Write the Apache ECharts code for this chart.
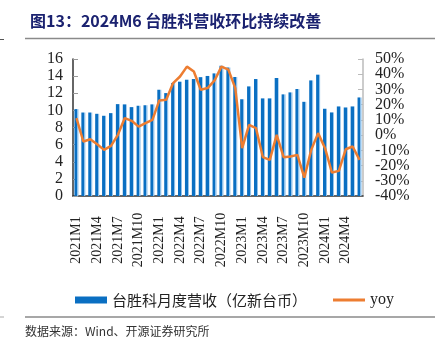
<!DOCTYPE html>
<html>
<head>
<meta charset="utf-8">
<script src="https://cdn.jsdelivr.net/npm/echarts@6/dist/echarts.min.js"></script>
<style>
html,body{margin:0;padding:0;background:#fff;}
#main{width:435px;height:354px;}
</style>
</head>
<body>
<div id="main"></div>
<script>
// 月份
var months = [];
var years = ['2021', '2022', '2023', '2024'];
for (var y = 0; y < years.length; y++) {
    for (var m = 1; m <= 12; m++) {
        if (years[y] === '2024' && m > 6) break;
        months.push(years[y] + 'M' + m);
    }
}

// 台胜科月度营收（亿新台币）
var revenue = [
    10.15, 9.75, 9.75, 9.6, 9.37, 9.68, 10.73, 10.7, 10.38, 10.54, 10.6, 10.7,
    12.41, 12.02, 13.2, 13.35, 13.58, 13.66, 13.88, 14.02, 14.32, 15.2, 15.0, 13.9,
    11.3, 12.8, 13.66, 11.4, 11.4, 13.78, 11.87, 12.1, 12.5, 11.0, 13.5, 14.17,
    10.19, 9.76, 10.46, 10.34, 10.46, 11.51
];

// yoy (%)
var yoy = [
    11.2, -4.2, -2.7, -6.0, -9.7, -7.1, 0.2, 11.2, 9.4, 5.6, 7.9, 10.0,
    22.8, 23.2, 34.2, 38.5, 45.0, 41.8, 29.8, 30.9, 35.9, 45.0, 43.0, 30.9,
    -8.6, 6.7, 4.6, -14.5, -16.3, 0.2, -14.5, -14.1, -13.0, -28.0, -9.7, 1.3,
    -8.6, -24.6, -23.5, -9.3, -7.5, -16.3
];

var barName = '台胜科月度营收（亿新台币）';
var lineName = 'yoy';

var myChart = echarts.init(document.getElementById('main'));
var serif = '"Liberation Serif", "Times New Roman", serif';
var cjk = '"Noto Sans CJK SC", sans-serif';

// 右轴标签太密会被自动隐藏，拆成两根重叠的轴，各显示一半
function pctLabel(odd) {
    return function (v) {
        var k = Math.round((v + 40) / 10);
        return (k % 2 === 1) === odd ? v + '%' : '';
    };
}

option = {
    animation: false,
    backgroundColor: '#fff',
    title: {
        text: '图13：2024M6 台胜科营收环比持续改善',
        left: 25,
        top: 8,
        textStyle: {
            fontFamily: cjk,
            fontSize: 16,
            fontWeight: 'bold',
            color: '#1b2270'
        }
    },
    graphic: [
        {type: 'line', shape: {x1: 25, y1: 38.5, x2: 435, y2: 38.5}, style: {stroke: '#8a8a8a', lineWidth: 1.5}},
        {type: 'line', shape: {x1: 0, y1: 39.5, x2: 4, y2: 39.5}, style: {stroke: '#555', lineWidth: 1}},
        {type: 'line', shape: {x1: 25, y1: 317, x2: 435, y2: 317}, style: {stroke: '#8a8a8a', lineWidth: 1.5}},
        {type: 'line', shape: {x1: 0, y1: 317, x2: 4, y2: 317}, style: {stroke: '#aaa', lineWidth: 1}},
        {
            type: 'text', left: 25, top: 325,
            style: {text: '数据来源：Wind、开源证券研究所', font: '12px ' + cjk, fill: '#333'}
        }
    ],
    legend: {
        top: 287,
        left: 70,
        itemGap: 26,
        itemWidth: 32,
        itemHeight: 7,
        textStyle: {fontFamily: cjk, fontSize: 15, color: '#222'},
        data: [
            {name: barName, icon: 'rect', itemStyle: {color: '#0a6fc2'}},
            {name: lineName, icon: 'path://M0,0 L32,0 L32,3 L0,3 Z', itemStyle: {color: '#ed7d31'},
                textStyle: {fontFamily: serif, fontSize: 16}}
        ]
    },
    grid: {
        left: 73,
        right: 72,
        top: 59,
        bottom: 158
    },
    xAxis: {
        type: 'category',
        data: months,
        axisLine: {lineStyle: {color: '#333', width: 1.5}},
        axisTick: {inside: true, interval: 0, length: 4, lineStyle: {color: '#999'}},
        axisLabel: {
            interval: 2,
            rotate: 90,
            align: 'center',
            verticalAlign: 'middle',
            margin: 44,
            fontFamily: serif,
            fontSize: 14,
            color: '#222'
        }
    },
    yAxis: [
        {
            type: 'value',
            min: 0,
            max: 16,
            interval: 2,
            splitLine: {show: false},
            axisLine: {show: true, lineStyle: {color: '#333', width: 1.5}},
            axisTick: {show: true, inside: true, length: 5, lineStyle: {color: '#999'}},
            axisLabel: {fontFamily: serif, fontSize: 16, color: '#222', margin: 10,
                showMinLabel: true, showMaxLabel: true}
        },
        {
            type: 'value',
            position: 'right',
            min: -40,
            max: 50,
            interval: 10,
            splitLine: {show: false},
            axisLine: {show: true, lineStyle: {color: '#bbb', width: 1.5}},
            axisTick: {show: true, inside: true, length: 5, lineStyle: {color: '#bbb'}},
            axisLabel: {fontFamily: serif, fontSize: 16, color: '#222', margin: 12,
                showMinLabel: false, showMaxLabel: true, formatter: pctLabel(true)}
        },
        {
            type: 'value',
            position: 'right',
            min: -40,
            max: 50,
            interval: 10,
            splitLine: {show: false},
            axisLine: {show: false},
            axisTick: {show: false},
            axisLabel: {fontFamily: serif, fontSize: 16, color: '#222', margin: 12,
                showMinLabel: true, showMaxLabel: false, formatter: pctLabel(false)}
        }
    ],
    series: [
        {
            name: barName,
            type: 'bar',
            data: revenue,
            barWidth: 4,
            itemStyle: {
                color: new echarts.graphic.LinearGradient(0, 0, 1, 0, [
                    {offset: 0, color: '#0a6fc2'},
                    {offset: 0.72, color: '#0a6fc2'},
                    {offset: 0.72, color: '#8ec0ea'},
                    {offset: 1, color: '#8ec0ea'}
                ])
            }
        },
        {
            name: lineName,
            type: 'line',
            yAxisIndex: 1,
            data: yoy,
            showSymbol: false,
            symbol: 'none',
            lineStyle: {color: '#ed7d31', width: 2.5},
            itemStyle: {color: '#ed7d31'}
        }
    ]
};

myChart.setOption(option);
</script>
</body>
</html>
